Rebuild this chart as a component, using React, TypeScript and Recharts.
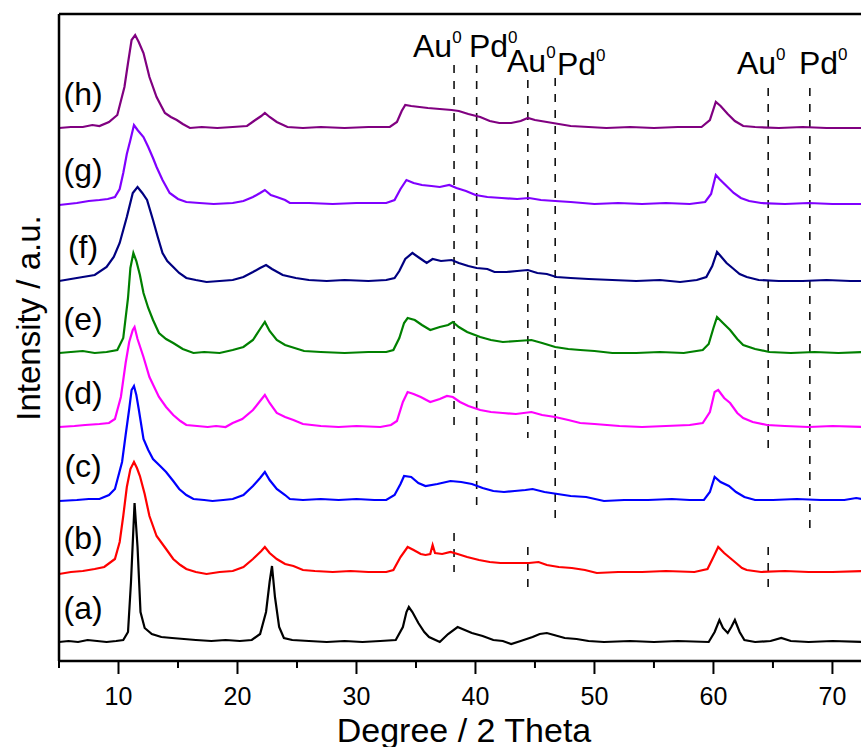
import React from 'react';
import { LineChart, Line, XAxis, YAxis, ReferenceLine, ReferenceDot } from 'recharts';

// intensity above each pattern's own baseline, [2theta, counts]
const patA = [[5,0],[5.8,1],[6.6,0],[7.4,2],[8.2,1],[9,0],[9.8,1],[10.4,2],[10.8,10],[11.05,60],[11.35,139],[11.6,95],[11.85,30],[12.2,14],[12.8,8],[13.6,5],[14.5,4],[15.5,3],[16.5,2],[17.8,1],[19,2],[20.2,1],[21.2,2],[21.9,8],[22.4,30],[22.7,60],[22.9,76],[23.15,45],[23.5,15],[23.9,4],[24.6,2],[26,1],[27.5,0],[29,1],[30.5,0],[32,1],[33.3,2],[33.9,15],[34.2,30],[34.4,35],[34.7,30],[35.2,19],[35.7,10],[36.1,5],[37,0],[37.7,8],[38.5,15],[39.1,12],[39.7,9],[40.6,6],[41.5,2],[42.3,1],[43,-2],[43.8,1],[44.8,5],[45.4,8],[46,9],[46.6,7],[47.5,4],[48.5,3],[49.5,1],[50.8,0],[53,1],[55,0],[57,1],[59.6,0],[60.1,10],[60.5,22],[60.8,14],[61.2,9],[61.5,15],[61.8,22],[62.2,10],[62.6,2],[63.5,0],[64.8,1],[65.7,4],[66.5,1],[68,0],[70,1],[72.5,0]];
const patB = [[5,-2],[6,0],[7,1],[8,3],[8.8,5],[9.7,13],[10.1,30],[10.4,56],[10.7,85],[11,103],[11.3,110],[11.55,104],[11.8,96],[12.2,78],[12.6,56],[13.2,36],[14,23],[14.6,13],[15.2,7],[15.7,3],[16.5,0],[17.4,-2],[18.5,0],[19.6,1],[20.5,5],[21.3,13],[22,21],[22.3,25],[22.7,19],[23.3,13],[24,8],[24.7,6],[25.5,2],[26.5,1],[28,0],[29.5,1],[31,0],[32.5,0],[33.1,2],[33.7,15],[34.3,25],[34.8,22],[35.4,18],[35.8,17],[36.2,18],[36.4,27],[36.6,19],[37.2,18],[37.9,20],[38.5,18],[39.3,15],[40.3,12],[41.2,10],[42.1,9],[43.3,9],[44.5,9],[45.3,10],[46,7],[47,5],[48.1,4],[49.2,2],[50.2,-1],[52,0],[54,0],[56,1],[58.4,0],[59.5,3],[60,15],[60.4,25],[60.9,19],[61.4,14],[61.9,9],[62.4,4],[62.8,2],[64,0],[66,1],[68,0],[70,0],[72.5,1]];
const patC = [[5,-1],[6.5,0],[7.5,1],[8.4,1],[9.2,5],[9.7,11],[10.3,38],[10.6,65],[10.9,91],[11.1,110],[11.3,114],[11.5,105],[11.7,91],[12.1,61],[12.5,50],[12.9,41],[13.5,34],[14,28],[14.6,19],[15.1,11],[15.7,5],[16.3,1],[17.2,0],[17.9,-1],[18.8,0],[19.6,1],[20.5,5],[21.3,14],[21.9,22],[22.3,28],[22.7,20],[23.3,11],[24,5],[24.4,1],[25.5,0],[27,1],[28.5,0],[30,1],[31.5,0],[32.5,0],[33.2,5],[33.7,16],[34,24],[34.6,23],[35.2,17],[35.8,14],[36.8,16],[37.9,19],[38.8,18],[39.7,16],[40.6,12],[41.5,9],[42.4,8],[43.3,9],[44.2,10],[44.8,11],[45.8,8],[46.9,6],[48,4],[49.3,3],[50.8,-1],[52.5,0],[54.5,0],[56.5,1],[58,0],[59.2,0],[59.7,8],[60.1,23],[60.6,18],[61.3,14],[61.9,8],[62.6,3],[63.5,0],[65,0],[67,1],[69,0],[71,0],[72,2],[72.5,1]];
const patD = [[5,0],[6.3,1],[7.2,2],[8.4,3],[9.2,4],[9.7,8],[10.2,30],[10.6,64],[10.9,85],[11.2,97],[11.35,100],[11.6,88],[12.1,70],[12.6,50],[13,40],[13.4,30],[14,20],[14.6,12],[15.2,6],[15.7,2],[16.6,1],[17.5,0],[18.2,1],[19,0],[19.6,4],[20.4,8],[21.3,17],[21.9,26],[22.3,32],[22.7,24],[23.3,14],[24,10],[24.7,7],[25.5,3],[27,1],[28.5,0],[30,1],[32,0],[32.9,2],[33.4,6],[33.9,25],[34.3,35],[34.8,33],[35.4,30],[36.2,25],[37,28],[37.6,31],[38.1,30],[38.7,25],[39.4,21],[40.4,17],[41.3,15],[42.3,14],[43.4,13],[44.7,15],[45.6,12],[46.7,10],[47.8,7],[48.8,4],[50,3],[52.1,1],[54,0],[56,1],[58,2],[59.1,4],[59.7,15],[60.1,35],[60.4,37],[60.9,29],[61.4,24],[62,14],[62.5,9],[63.3,5],[64.5,2],[66,1],[68,0],[70,1],[72.5,0]];
const patE = [[5,0],[6,1],[7,2],[8,0],[9,1],[9.9,3],[10.4,15],[10.8,55],[11,85],[11.25,100],[11.5,92],[11.8,78],[12.1,60],[12.5,45],[12.9,33],[13.4,20],[14,14],[14.6,10],[15.4,4],[16.3,0],[17.2,1],[18.5,0],[19.6,3],[20.5,6],[21.3,13],[21.9,24],[22.3,31],[22.7,22],[23.3,13],[24,8],[24.8,5],[25.6,2],[27,1],[29,0],[31,1],[32.5,1],[33.1,3],[33.6,15],[34,30],[34.3,35],[34.9,33],[35.5,28],[36.2,23],[37,26],[37.7,28],[38.1,31],[38.6,26],[39.3,21],[40.4,16],[41.3,13],[42.3,11],[43.5,12],[44.7,13],[45.6,10],[46.7,6],[47.8,4],[48.8,3],[50,2],[51.5,0],[53.5,0],[55.5,1],[57.5,0],[59.1,3],[59.6,9],[60,25],[60.3,36],[60.8,30],[61.4,23],[62,14],[62.5,8],[63.5,4],[64.7,1],[66.5,0],[68.5,1],[70.5,0],[72.5,1]];
const patF = [[5,0],[6,2],[7,4],[8,6],[9,14],[9.6,24],[10.1,38],[10.7,64],[11.2,88],[11.6,94],[12,88],[12.4,81],[12.9,61],[13.3,44],[13.7,28],[14.1,20],[14.6,14],[15.1,8],[15.7,3],[16.5,1],[17.4,-1],[18.5,0],[19.6,1],[20.5,4],[21.3,9],[21.9,13],[22.4,16],[22.9,12],[23.8,6],[24.9,3],[26,1],[27.5,0],[29,1],[31,0],[32.5,1],[33.2,3],[33.6,10],[34.1,22],[34.7,28],[35.3,23],[35.9,18],[36.4,22],[37.1,20],[38,21],[38.6,18],[39.4,15],[40.1,13],[41,12],[41.6,9],[42.6,9],[43.5,10],[44.4,11],[45.2,8],[46,7],[46.8,4],[48,3],[49.5,2],[51.5,1],[53.5,0],[55.5,1],[57.2,-1],[58.6,1],[59.4,4],[59.9,15],[60.3,29],[60.6,25],[61.1,18],[61.6,13],[62.2,7],[62.8,4],[63.8,1],[65.5,0],[67.5,0],[69.5,1],[71.5,0],[72.5,0]];
const patG = [[5,-1],[6.5,1],[7.5,3],[8.4,4],[9.1,5],[9.7,7],[10.1,15],[10.4,31],[10.7,50],[11,64],[11.3,79],[11.6,74],[12.1,67],[12.5,57],[12.9,46],[13.2,37],[13.7,24],[14.3,11],[15,5],[15.7,2],[16.8,1],[18,0],[19.6,1],[20.5,3],[21.3,7],[21.9,11],[22.3,14],[22.8,9],[23.3,7],[24,4],[24.4,1],[26,1],[28,0],[30,1],[32.5,1],[33.2,4],[33.7,15],[34.2,24],[34.8,21],[35.5,19],[36.3,18],[37,17],[37.8,19],[38.4,16],[39.2,13],[40,9],[41,7],[42.2,6],[43.5,5],[44.5,6],[45.5,4],[46.7,3],[48,2],[50,0],[52,1],[54,0],[56,1],[58,0],[59.3,2],[59.8,10],[60.2,29],[60.5,25],[61.1,18],[61.7,11],[62.3,6],[63,3],[64,1],[66,0],[68,1],[70,0],[72.5,0]];
const patH = [[5,0],[6,1],[7,1],[7.8,3],[8.4,2],[9.2,6],[9.9,13],[10.5,41],[10.8,65],[11.1,88],[11.4,93],[11.7,86],[12.1,75],[12.6,51],[13.2,31],[13.9,15],[14.4,11],[14.9,8],[15.4,4],[16,0],[17,1],[18.3,0],[19.6,1],[20.8,2],[21.5,8],[22,12],[22.3,15],[22.7,11],[23.3,6],[24.2,1],[25.5,0],[27,1],[29,0],[31,1],[32.8,1],[33.4,6],[33.8,17],[34.1,23],[34.6,22],[35.3,21],[36,20],[37,19],[38,18],[38.6,17],[39.4,14],[40.4,11],[41.2,7],[42,5],[43,5],[43.8,7],[44.4,10],[45,8],[46,6],[47,4],[48,2],[49.5,1],[51,0],[53,1],[55,0],[57,1],[59,1],[59.7,8],[60.2,26],[60.6,22],[61.2,14],[61.8,7],[62.5,2],[63.5,1],[65.5,0],[67.5,1],[69.5,0],[72.5,0]];

const patterns = [patA, patB, patC, patD, patE, patF, patG, patH];
const names = ['(a)', '(b)', '(c)', '(d)', '(e)', '(f)', '(g)', '(h)'];
// vertical stacking offset of each pattern
const offsets = [19, 89, 161, 234, 308, 380, 457, 533];
const colors = ['#000000', '#ff0000', '#0000ff', '#ff00ff', '#008000', '#000080', '#8000ff', '#800080'];

const xTicks = [5, 10, 15, 20, 25, 30, 35, 40, 45, 50, 55, 60, 65, 70];

// reference reflections (2theta) and the y span of each dashed mark
const refLines = [
  { x: 38.2, y1: 596, y2: 236 },
  { x: 38.2, y1: 128, y2: 89 },
  { x: 40.1, y1: 596, y2: 156 },
  { x: 44.4, y1: 581, y2: 223 },
  { x: 44.4, y1: 114, y2: 74 },
  { x: 46.7, y1: 583, y2: 143 },
  { x: 64.6, y1: 573, y2: 211 },
  { x: 64.6, y1: 114, y2: 74 },
  { x: 68.1, y1: 573, y2: 133 },
];
const refText = [
  { t: 'Au', x: 34.75, y: 604 },
  { t: 'Pd', x: 39.45, y: 604 },
  { t: 'Au', x: 42.65, y: 589 },
  { t: 'Pd', x: 46.85, y: 586 },
  { t: 'Au', x: 61.97, y: 587 },
  { t: 'Pd', x: 67.18, y: 587 },
];

const series = patterns.map((p, i) => p.map(([x, y]) => ({ x, y: y + offsets[i] })));

const Tick = (props: any) => {
  const { x, y, payload } = props;
  const major = payload.value % 10 === 0;
  return (
    <g>
      <line x1={x} x2={x} y1={y} y2={y + (major ? 13 : 7)} stroke="#000" strokeWidth={2} />
      {major && (
        <text x={x} y={y + 44} textAnchor="middle" fontSize={25} fill="#000">
          {payload.value}
        </text>
      )}
    </g>
  );
};

export default function App() {
  return (
    <div style={{ position: 'absolute', left: 0, top: 0, width: 861, height: 747, background: '#fff', fontFamily: '"Liberation Sans", Arial, sans-serif' }}>
      <LineChart width={861} height={747} margin={{ top: 14, right: 0, bottom: 0, left: 0 }}>
        <XAxis
          type="number"
          dataKey="x"
          domain={[5, 72.4]}
          allowDataOverflow
          ticks={xTicks}
          interval={0}
          height={86}
          tickSize={0}
          tickMargin={0}
          tick={<Tick />}
          axisLine={{ stroke: '#000', strokeWidth: 2.5 }}
          label={() => (
            <text x={464} y={742} textAnchor="middle" fontSize={34} fill="#000">Degree / 2 Theta</text>
          )}
        />
        <YAxis
          type="number"
          domain={[0, 647]}
          allowDataOverflow
          width={59}
          tick={false}
          tickLine={false}
          axisLine={{ stroke: '#000', strokeWidth: 2.5 }}
          label={() => (
            <text transform="translate(40,318) rotate(-90)" textAnchor="middle" fontSize={33} fill="#000">Intensity / a.u.</text>
          )}
        />
        <ReferenceLine y={647} stroke="#000" strokeWidth={2.5} />
        {refLines.map((r, i) => (
          <ReferenceLine
            key={'r' + i}
            segment={[{ x: r.x, y: r.y1 }, { x: r.x, y: r.y2 }]}
            stroke="#111"
            strokeWidth={1.6}
            strokeDasharray="8 8"
          />
        ))}
        {series.map((d, i) => (
          <Line
            key={names[i]}
            data={d}
            dataKey="y"
            type="linear"
            stroke={colors[i]}
            strokeWidth={2.2}
            dot={false}
            isAnimationActive={false}
          />
        ))}
        {names.map((n, i) => (
          <ReferenceDot
            key={'n' + n}
            x={7.02}
            y={offsets[i] + 32}
            r={0}
            fill="none"
            stroke="none"
            label={(p: any) => (
              <text x={p.viewBox.x} y={p.viewBox.y + 9} textAnchor="middle" fontSize={32} fill="#000">{n}</text>
            )}
          />
        ))}
        {refText.map((m, i) => (
          <ReferenceDot
            key={'m' + i}
            x={m.x}
            y={m.y}
            r={0}
            fill="none"
            stroke="none"
            label={(p: any) => (
              <text x={p.viewBox.x} y={p.viewBox.y} fontSize={32} fill="#000">
                {m.t}
                <tspan fontSize={17} dy={-14}>0</tspan>
              </text>
            )}
          />
        ))}
      </LineChart>
    </div>
  );
}
